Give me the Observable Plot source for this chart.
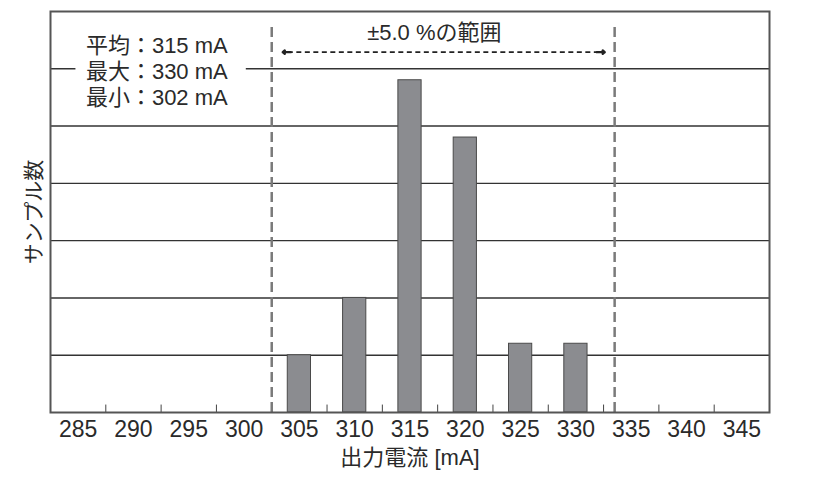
<!DOCTYPE html>
<html><head><meta charset="utf-8">
<script src="https://cdn.jsdelivr.net/npm/d3@7"></script>
<script src="https://cdn.jsdelivr.net/npm/@observablehq/plot@0.6"></script>
<style>body{margin:0;background:#fff}</style>
</head><body><div id="chart"></div>
<script>
const currents = [285, 290, 295, 300, 305, 310, 315, 320, 325, 330, 335, 340, 345];
const counts   = [0, 0, 0, 0, 1, 2, 5.8, 4.8, 1.2, 1.2, 0, 0, 0];
const statsLines = ["平均：315 mA", "最大：330 mA", "最小：302 mA"];
const rangeLabel = "±5.0 %の範囲";
const rangeLimits = [302.5, 333.5];
const xLabel = "出力電流 [mA]";
const yLabel = "サンプル数";
const gridLevels = [1, 2, 3, 4, 5, 6];

const bars = currents.map((c, i) => ({current: c, count: counts[i]})).filter(d => d.count > 0);
const boundaries = currents.slice(0, -1).map(c => c + 2.5);
const font = "'Liberation Sans', 'Noto Sans CJK JP', sans-serif";

const chart = Plot.plot({
  width: 826, height: 481,
  marginLeft: 50, marginRight: 57, marginTop: 11, marginBottom: 69,
  x: {domain: [282.5, 347.5], ticks: currents, tickSize: 0, tickPadding: 8, label: null, tickFormat: d => String(d)},
  y: {domain: [0, 7], axis: null},
  style: {fontFamily: font, fontSize: "23px", color: "#2a2a2a", background: "#fff"},
  marks: [
    Plot.ruleY(gridLevels, {stroke: "#333", strokeWidth: 1.4}),
    Plot.rect([0], {x1: 284.8, x2: 300.2, y1: 5.8, y2: 6.2, fill: "white"}),
    Plot.text([statsLines.join("\n")], {x: 285.7, y: 5.97, textAnchor: "start", lineHeight: 1.18, fontSize: 22, fill: "#2a2a2a"}),
    Plot.ruleX(boundaries, {y1: 0, y2: 0.13, stroke: "#444", strokeWidth: 1}),
    Plot.rectY(bars, {x1: d => d.current - 1.05, x2: d => d.current + 1.05, y1: 0, y2: "count", fill: "#8b8c90", stroke: "#4a4a4a", strokeWidth: 1}),
    Plot.ruleX(rangeLimits, {y1: 0, y2: 6.8, stroke: "#7a7a7a", strokeWidth: 2.5, strokeDasharray: "10,5"}),
    Plot.ruleY([6.29], {x1: 304.0, x2: 332.1, stroke: "#222", strokeWidth: 1.8, strokeDasharray: "5,3.5"}),
    Plot.arrow([{a: 304.2, b: 303.5}, {a: 331.9, b: 332.6}], {x1: "a", x2: "b", y1: 6.29, y2: 6.29, headLength: 5, headAngle: 80, stroke: "#222", strokeWidth: 2.4}),
    Plot.text([rangeLabel], {x: 317.2, y: 6.62, fontSize: 22, fill: "#2a2a2a"}),
    Plot.text([yLabel], {frameAnchor: "left", textAnchor: "middle", lineAnchor: "middle", dx: -16, rotate: -90, fontSize: 21, fill: "#2a2a2a"}),
    Plot.text([xLabel], {frameAnchor: "bottom", textAnchor: "middle", lineAnchor: "middle", dy: 45, fontSize: 22, fill: "#2a2a2a"}),
    Plot.frame({stroke: "#555", strokeWidth: 2})
  ]
});
document.getElementById("chart").appendChild(chart);
</script>
</body></html>
